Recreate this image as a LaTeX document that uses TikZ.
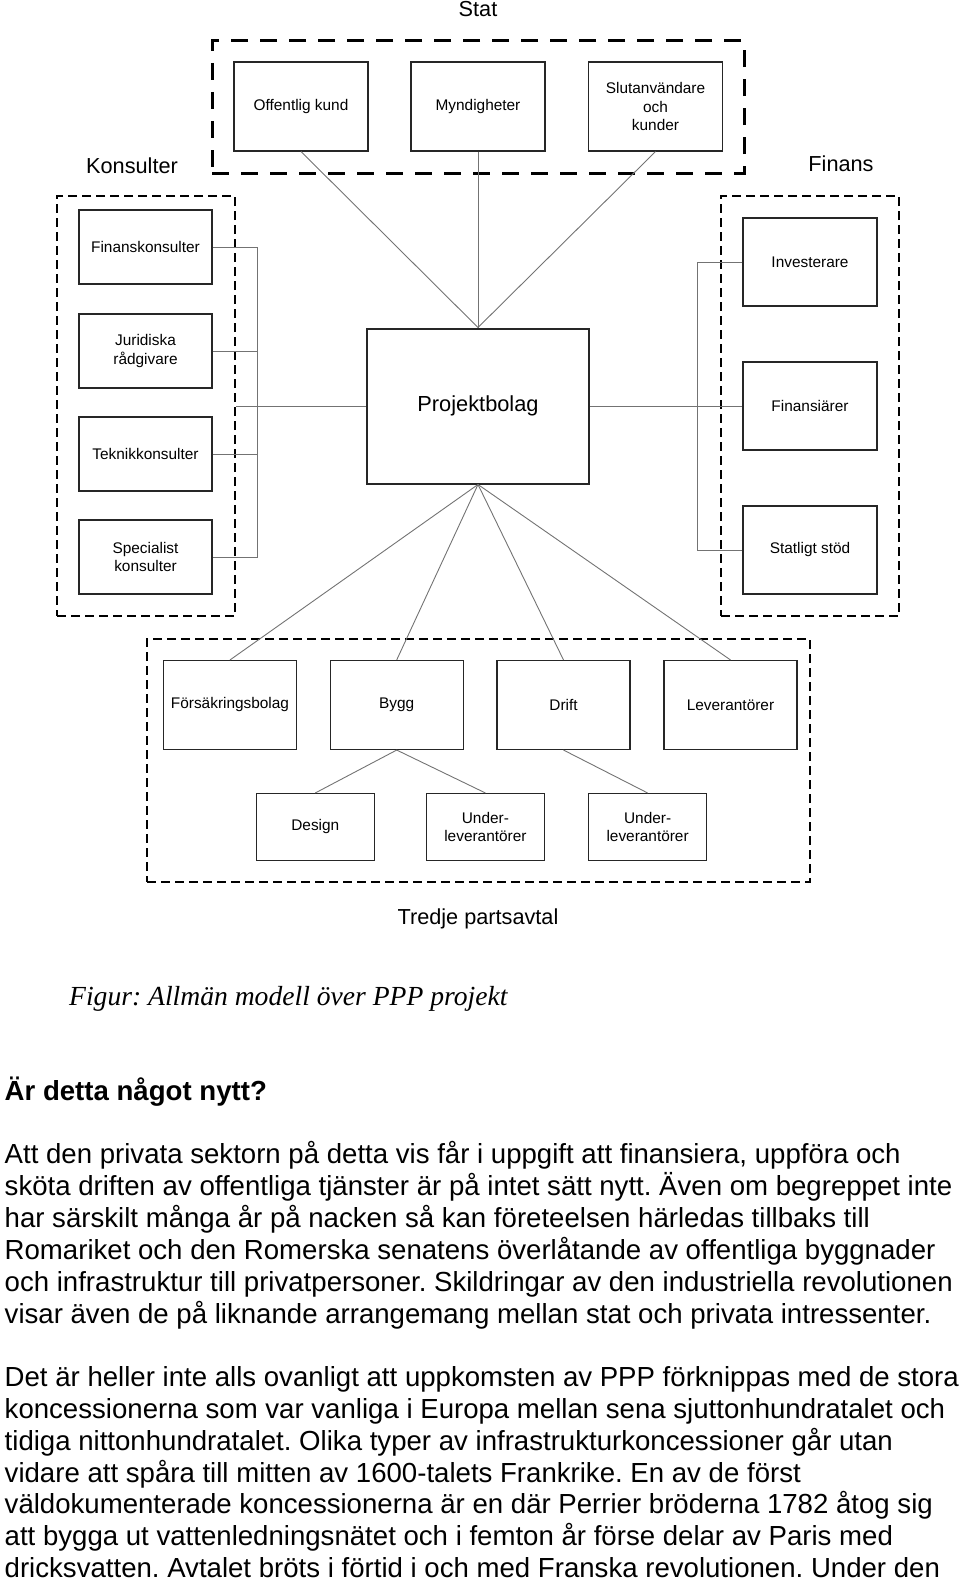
\documentclass[tikz,border=0pt]{standalone}
\usepackage{fontspec}
\setmainfont{Liberation Sans}
\newfontfamily\capfont{Liberation Serif}
\frenchspacing

\tikzset{
  box/.style={draw=black!85, line width=1.1pt, align=center, inner sep=0pt,
    font=\fontsize{15.4}{18.7}\selectfont},
  topbox/.style={box, minimum width=134, minimum height=89},
  konsbox/.style={box, minimum width=133, minimum height=74},
  finbox/.style={box, minimum width=134, minimum height=88},
  rowbox/.style={box, minimum width=133, minimum height=89},
  subbox/.style={box, minimum width=118, minimum height=67},
  projbox/.style={box, line width=2pt, minimum width=222, minimum height=155,
    font=\fontsize{21.8}{26}\selectfont},
  grp/.style={draw, line width=2.8pt, dash pattern=on 9pt off 5pt, inner sep=0pt},
  statgrp/.style={grp, line width=3pt, dash pattern=on 17pt off 12pt},
  grplabel/.style={anchor=base, inner sep=0pt, font=\fontsize{21.7}{26}\selectfont},
  link/.style={draw=black!55, line width=0.9pt},
  bodytext/.style={anchor=base west, inner sep=0pt,
    font=\fontsize{27.6}{31.9}\selectfont}
}

\begin{document}
\begin{tikzpicture}[x=1pt, y=-1pt]
\useasboundingbox (0,0) rectangle (960,1579);
% grupper
\node[statgrp, minimum width=532, minimum height=132] (stat) at (478,107) {};
\node[grp, minimum width=178, minimum height=420] (kons) at (146,406) {};
\node[grp, minimum width=178, minimum height=420] (fin) at (810,406) {};
\node[grp, minimum width=663, minimum height=243] (tredje) at (478.5,760.5) {};
\node[grplabel] (statlbl) at (478,16.5) {Stat};
\node[grplabel] (konslbl) at (132,173) {Konsulter};
\node[grplabel] (finlbl) at (841,171) {Finans};
\node[grplabel] (tredjelbl) at (478,924) {Tredje partsavtal};
% stat
\node[topbox] (offentlig) at (301,106.5) {Offentlig kund};
\node[topbox] (myndigheter) at (478,106.5) {Myndigheter};
\node[topbox] (slutanv) at (655.5,106.5) {Slutanvändare\\och\\kunder};
% projektbolag
\node[projbox] (projekt) at (478,406) {Projektbolag};
% konsulter
\node[konsbox] (finkons) at (145.5,247) {Finanskonsulter};
\node[konsbox] (juridiska) at (145.5,351) {Juridiska\\rådgivare};
\node[konsbox] (teknik) at (145.5,454) {Teknikkonsulter};
\node[konsbox] (specialist) at (145.5,557) {Specialist\\konsulter};
% finans
\node[finbox] (investerare) at (810,262) {Investerare};
\node[finbox] (finansiarer) at (810,406) {Finansiärer};
\node[finbox] (statligt) at (810,550) {Statligt stöd};
% tredje part
\node[rowbox] (forsakring) at (230,705) {Försäkringsbolag};
\node[rowbox] (bygg) at (396.7,705) {Bygg};
\node[rowbox] (drift) at (563.5,705) {Drift};
\node[rowbox] (leverantorer) at (730.5,705) {Leverantörer};
\node[subbox] (design) at (315.3,827) {Design};
\node[subbox] (underbygg) at (485.4,827) {Under-\\leverantörer};
\node[subbox] (underdrift) at (647.6,827) {Under-\\leverantörer};
% kopplingar
\draw[link] (offentlig.south) -- (projekt.north);
\draw[link] (myndigheter.south) -- (projekt.north);
\draw[link] (slutanv.south) -- (projekt.north);
\draw[link] (projekt.west) -- (kons.east);
\draw[link] (finkons.east) -- ++(45,0) |- (specialist.east);
\foreach \n in {juridiska,teknik} \draw[link] (\n.east) -- ++(45,0);
\draw[link] (projekt.east) -- (finansiarer.west);
\draw[link] (investerare.west) -- ++(-45,0) |- (statligt.west);
\foreach \n in {forsakring,bygg,drift,leverantorer} \draw[link] (projekt.south) -- (\n.north);
\draw[link] (bygg.south) -- (design.north);
\draw[link] (bygg.south) -- (underbygg.north);
\draw[link] (drift.south) -- (underdrift.north);
% text
\node[anchor=base west, inner sep=0pt, font=\capfont\itshape\fontsize{27.6}{31.9}\selectfont]
  (figur) at (69,1005) {Figur: Allmän modell över PPP projekt};
\node[anchor=base west, inner sep=0pt, font=\bfseries\fontsize{27.6}{31.9}\selectfont]
  (rubrik) at (4.5,1100.7) {Är detta något nytt?};
\node[bodytext] (stycke1) at (4.5,1163) {\begin{tabular}[t]{@{}l@{}}
Att den privata sektorn på detta vis får i uppgift att finansiera, uppföra och\\
sköta driften av offentliga tjänster är på intet sätt nytt. Även om begreppet inte\\
har särskilt många år på nacken så kan företeelsen härledas tillbaks till\\
Romariket och den Romerska senatens överlåtande av offentliga byggnader\\
och infrastruktur till privatpersoner. Skildringar av den industriella revolutionen\\
visar även de på liknande arrangemang mellan stat och privata intressenter.
\end{tabular}};
\node[bodytext] (stycke2) at (4.5,1386.3) {\begin{tabular}[t]{@{}l@{}}
Det är heller inte alls ovanligt att uppkomsten av PPP förknippas med de stora\\
koncessionerna som var vanliga i Europa mellan sena sjuttonhundratalet och\\
tidiga nittonhundratalet. Olika typer av infrastrukturkoncessioner går utan\\
vidare att spåra till mitten av 1600-talets Frankrike. En av de först\\
väldokumenterade koncessionerna är en där Perrier bröderna 1782 åtog sig\\
att bygga ut vattenledningsnätet och i femton år förse delar av Paris med\\
dricksvatten. Avtalet bröts i förtid i och med Franska revolutionen. Under den
\end{tabular}};
\end{tikzpicture}
\end{document}
